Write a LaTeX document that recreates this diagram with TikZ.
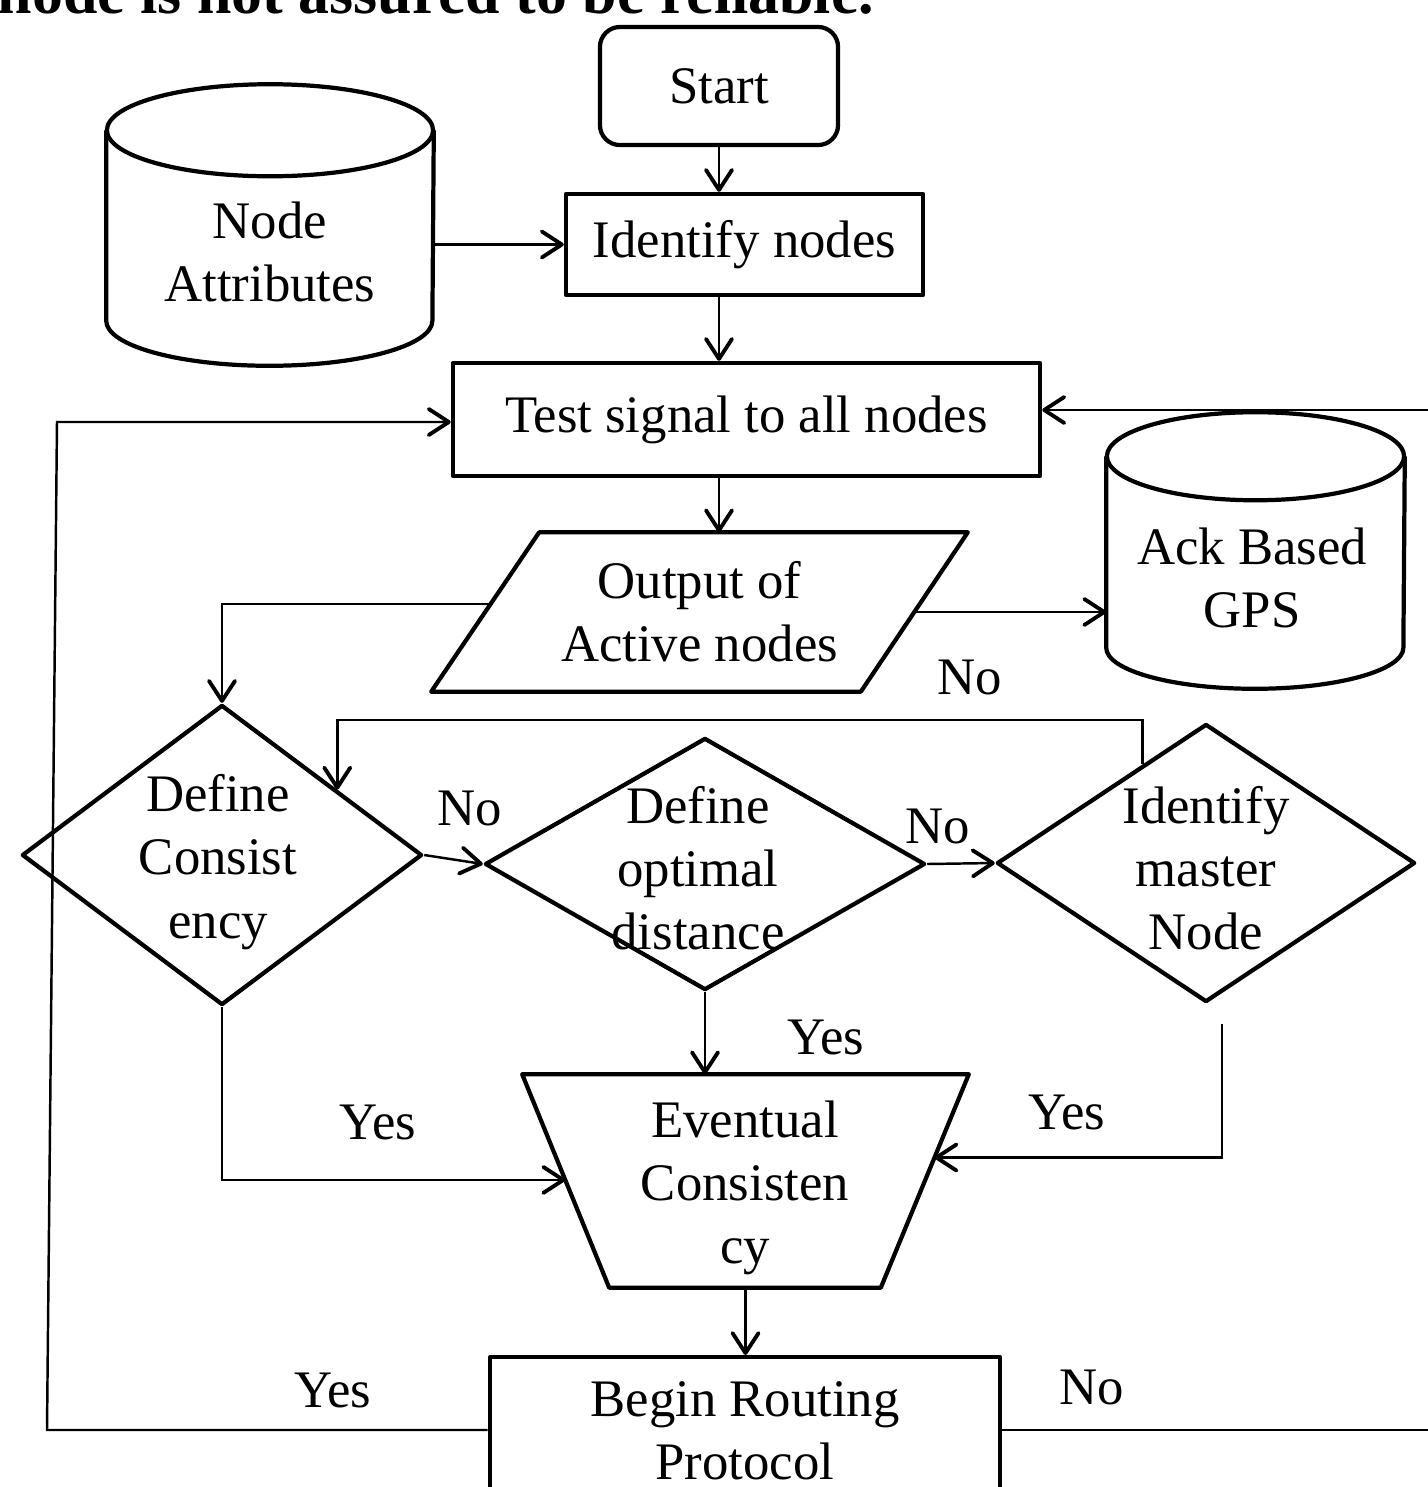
\documentclass[tikz,border=0pt]{standalone}
\usepackage{fontspec}
\setmainfont{Liberation Serif}
\usetikzlibrary{shapes.geometric,arrows.meta,calc}
\begin{document}
\begin{tikzpicture}[x=0.01cm,y=-0.01cm,
  every node/.style={font=\fontsize{15pt}{18pt}\selectfont, align=center, inner sep=0pt},
  shp/.style={draw, line width=1.2pt, line join=round},
  dia/.style={shp, diamond, inner sep=0pt},
  arr/.style={line width=0.7pt, -{Straight Barb[length=2mm,width=2.6mm,line width=1.1pt,round]}},
  ln/.style={line width=0.7pt}]
\useasboundingbox (0,0) rectangle (1428,1487);
\clip (0,0) rectangle (1428,1487);

% cut-off caption at the top
\node[anchor=base west, font=\fontsize{17.6pt}{20pt}\selectfont\bfseries] (cap) at (-3,13) {node is not assured to be reliable.};

% boxes
\node[shp, rounded corners=0.2cm, minimum width=2.38cm, minimum height=1.18cm] (start) at (719,86) {Start};
\node[shp, minimum width=3.57cm, minimum height=1.01cm] (idn) at (744.5,244.5) {Identify nodes};
\node[shp, minimum width=5.87cm, minimum height=1.13cm] (test) at (746.5,419.5) {Test signal to all nodes};

% Node Attributes cylinder
\node[minimum width=3.26cm, minimum height=2.80cm] (na) at (270,225) {};
\draw[shp] ([yshift=-0.46cm]na.north west) -- ([yshift=0.45cm]na.south west)
  arc[start angle=180, end angle=360, x radius=1.63cm, y radius=0.45cm]
  -- ([yshift=-0.46cm]na.north east);
\draw[shp] ([yshift=-0.46cm]na.north) ellipse[x radius=1.63cm, y radius=0.46cm];
\node (natext) at (270,252) {Node\\Attributes};

% Ack Based GPS cylinder
\node[minimum width=2.97cm, minimum height=2.75cm] (ack) at (1255.5,550.5) {};
\draw[shp] ([yshift=-0.44cm]ack.north west) -- ([yshift=0.41cm]ack.south west)
  arc[start angle=180, end angle=360, x radius=1.485cm, y radius=0.41cm]
  -- ([yshift=-0.44cm]ack.north east);
\draw[shp] ([yshift=-0.44cm]ack.north) ellipse[x radius=1.485cm, y radius=0.44cm];
\node (acktext) at (1252,578) {Ack Based\\GPS};

% Output parallelogram
\node[minimum width=5.35cm, minimum height=1.58cm] (out) at (699.5,612) {Output of\\Active nodes};
\coordinate (outTL) at ([xshift=1.08cm]out.north west);
\coordinate (outBR) at ([xshift=-1.07cm]out.south east);
\draw[shp] (outTL) -- (out.north east) -- (outBR) -- (out.south west) -- cycle;

% diamonds
\node[dia, minimum width=4.00cm, minimum height=3.00cm] (dc) at (222,855) {};
\node (dctext) at (218,862) {Define\\Consist\\ency};
\node[dia, minimum width=4.40cm, minimum height=2.52cm] (dod) at (705,864) {};
\node (dodtext) at (698,868) {Define\\optimal\\distance};
\node[dia, minimum width=4.18cm, minimum height=2.78cm] (imn) at (1206,863) {};
\node (imntext) at (1206,868) {Identify\\master\\Node};

% Eventual Consistency trapezium
\node[minimum width=4.45cm, minimum height=2.12cm] (ec) at (745.5,1181) {};
\node (ectext) at (745,1188) {Eventual\\Consisten\\cy};
\coordinate (ecBL) at ([xshift=0.87cm]ec.south west);
\coordinate (ecBR) at ([xshift=-0.88cm]ec.south east);
\draw[shp] (ec.north west) -- (ec.north east) -- (ecBR) -- (ecBL) -- cycle;

% Begin Routing Protocol
\node[shp, anchor=north, minimum width=5.10cm, inner ysep=0.24cm] (br) at (745,1355) {Begin Routing\\Protocol};

% labels
\node (no1) at (470,808) {No};
\node (no2) at (938,826) {No};
\node (no3) at (970,677) {No};
\node (yes1) at (826,1037) {Yes};
\node (yes2) at (378,1122) {Yes};
\node (yes3) at (1067,1112) {Yes};
\node (yes4) at (333,1390) {Yes};
\node (no4) at (1092,1387) {No};

% helper points
\coordinate (outL) at ($(out.south west)!0.55!(outTL)$);
\coordinate (outR) at ($(out.north east)!0.5!(outBR)$);
\coordinate (imnp) at ($(imn.north)!0.3!(imn.west)$);
\coordinate (dcp) at ($(dc.north)!0.57!(dc.east)$);
\coordinate (loopy) at (0,720);
\coordinate (ecL) at ($(ec.north west)!0.495!(ecBL)$);
\coordinate (ecR) at ($(ec.north east)!0.39!(ecBR)$);
\coordinate (lt) at (57,422);
\coordinate (lb) at (47,1430);
\coordinate (rt) at (1440,410);
\coordinate (rb) at (1440,1430);

% connectors
\draw[arr] (start.south) -- (start.south |- idn.north);
\draw[arr] (na.east |- idn.west) -- (idn.west);
\draw[arr] (idn.south -| start.south) -- (test.north -| start.south);
\draw[arr] (test.south -| start.south) -- (out.north -| start.south);
\draw[arr] (outR) -- (outR -| ack.west);
\draw[arr] (outL) -| (dc.north);
\draw[arr] (dc.east) -- (dod.west);
\draw[arr] (dod.east) -- (imn.west);
\draw[arr] (imnp) -- (imnp |- loopy) -| (dcp);
\draw[arr] (dc.south) |- (ecL);
\draw[arr] (dod.south) -- (dod.south |- ec.north);
\draw[arr] ([xshift=0.16cm,yshift=-0.2cm]imn.south) |- (ecR);
\draw[arr] (ec.south) -- (ec.south |- br.north);
\draw[arr] (br.west |- lb) -- (lb) -- (lt) -- (lt -| test.west);
\draw[arr] (br.east |- rb) -- (rb) -- (rt) -- (rt -| test.east);
\end{tikzpicture}
\end{document}
